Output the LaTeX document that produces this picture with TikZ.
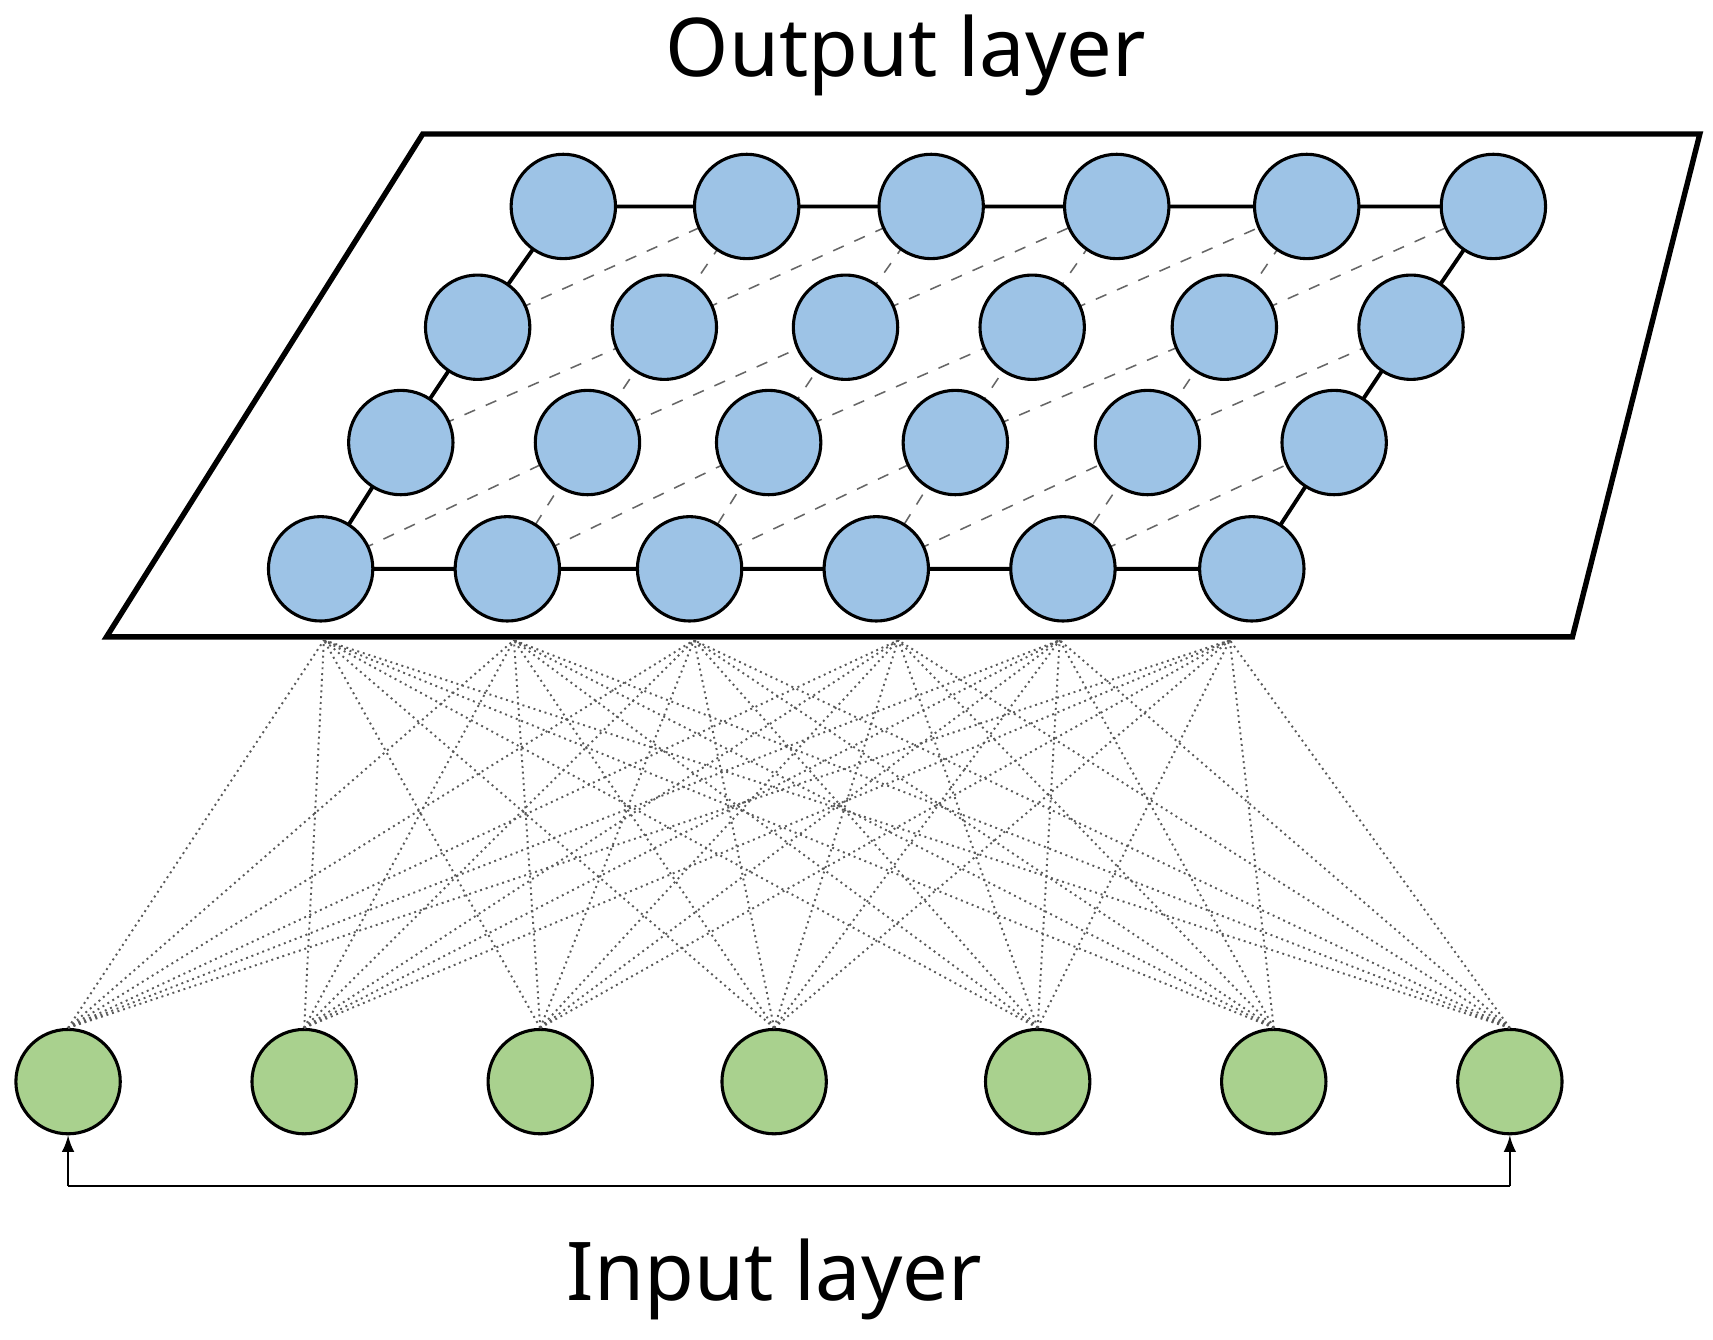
\documentclass[tikz,border=0pt]{standalone}
\usepackage{fontspec}
\setmainfont{Noto Sans}
\begin{document}
\begin{tikzpicture}[x=0.01cm,y=-0.01cm,
  onode/.style={circle,draw=black,line width=0.8pt,fill={rgb,255:red,157;green,195;blue,230},minimum size=0.95cm,inner sep=0pt},
  inode/.style={circle,draw=black,line width=0.8pt,fill={rgb,255:red,169;green,209;blue,142},minimum size=0.95cm,inner sep=0pt},
  grid/.style={line width=1pt},
  dgrid/.style={dashed,line width=0.4pt,gray!80!black},
  conn/.style={densely dotted,line width=0.5pt,gray!70!black},
  lab/.style={font=\fontsize{21}{25}\selectfont}]
\useasboundingbox (0,0) rectangle (1560,1220);
\node[lab] (ol) at (825,50) {Output layer};
\node[lab] (il) at (705,1165) {Input layer};
\coordinate (p1) at (385,122); \coordinate (p2) at (1548,122);
\coordinate (p3) at (1432,580); \coordinate (p4) at (97,580);
\draw[line width=1.4pt,fill=white] (p1)--(p2)--(p3)--(p4)--cycle;
\def\rowA{513,680,848,1017,1190,1360}
\def\rowB{435,605,770,940,1115,1285}
\def\rowC{365,535,700,870,1045,1215}
\def\rowD{292,462,628,798,968,1140}
\foreach \x [count=\i] in \rowA {\coordinate (c1\i) at (\x,188);}
\foreach \x [count=\i] in \rowB {\coordinate (c2\i) at (\x,298);}
\foreach \x [count=\i] in \rowC {\coordinate (c3\i) at (\x,403);}
\foreach \x [count=\i] in \rowD {\coordinate (c4\i) at (\x,518);}
\draw[grid] (c11)--(c16)--(c26)--(c36)--(c46)--(c41)--(c31)--(c21)--(c11);
\foreach \c in {2,...,5} \draw[dgrid] (c1\c)--(c2\c)--(c3\c)--(c4\c);
\foreach \c [evaluate=\c as \n using int(\c+1)] in {1,...,5} {
  \draw[dgrid] (c4\c)--(c3\n); \draw[dgrid] (c3\c)--(c2\n); \draw[dgrid] (c2\c)--(c1\n);}
\foreach \r in {1,...,4} \foreach \c in {1,...,6} \node[onode] (o\r\c) at (c\r\c) {};
\foreach \x [count=\i] in {62,277,492,705,945,1160,1375} \node[inode] (i\i) at (\x,985) {};
\foreach \x [count=\j] in {295,468,632,818,965,1120} \coordinate (b\j) at (\x,583);
\foreach \i in {1,...,7} \foreach \j in {1,...,6} \draw[conn] (i\i.north)--(b\j);
\coordinate (l1) at (62,1080); \coordinate (l2) at (1375,1080);
\draw[line width=0.5pt] (l1)--(l2);
\draw[-latex,line width=0.5pt] (l1)--(i1.south);
\draw[-latex,line width=0.5pt] (l2)--(i7.south);
\end{tikzpicture}
\end{document}
